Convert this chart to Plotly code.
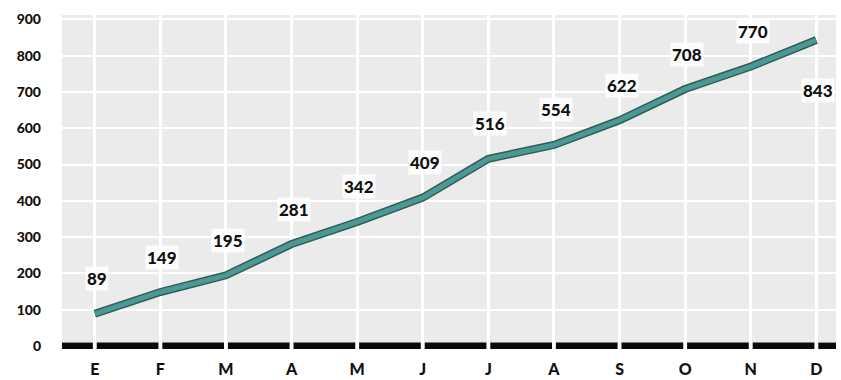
import plotly.graph_objects as go

# Monthly cumulative totals (Spanish month initials)
months = ["E", "F", "M", "A", "M", "J", "J", "A", "S", "O", "N", "D"]
values = [89, 149, 195, 281, 342, 409, 516, 554, 622, 708, 770, 843]
y_ticks = [0, 100, 200, 300, 400, 500, 600, 700, 800, 900]

xs = list(range(len(months)))
font_family = "Lato, 'Open Sans', sans-serif"

fig = go.Figure()

# Heavy black base rule, broken at every month position
gap = 0.03
base_x, base_y = [-0.5, -gap, None], [0, 0, None]
for i in xs:
    base_x += [i + gap, min(i + 1 - gap, 11.3), None]
    base_y += [0, 0, None]
fig.add_trace(go.Scatter(x=base_x, y=base_y, mode="lines",
                         line=dict(color="#0a0a0a", width=7),
                         hoverinfo="skip", showlegend=False, cliponaxis=False))

# Line: dark edge under a teal core
fig.add_trace(go.Scatter(x=xs, y=values, mode="lines",
                         line=dict(color="#2c5e5c", width=8),
                         hoverinfo="skip", showlegend=False))
fig.add_trace(go.Scatter(x=xs, y=values, mode="lines",
                         line=dict(color="#4d9893", width=5),
                         showlegend=False))

# Value labels sitting above each point (the last one below)
for i, v in enumerate(values):
    shift = -50 if i == len(values) - 1 else 35
    fig.add_annotation(x=i, y=v, text=str(v), showarrow=False, yshift=shift,
                       xshift=2,
                       bgcolor="rgba(255,255,255,0.85)", borderpad=1,
                       font=dict(family=font_family, size=17, color="#111",
                                 weight=900))

fig.update_xaxes(range=[-0.5, 11.3], tickvals=xs, ticktext=months,
                 showgrid=True, gridcolor="white", gridwidth=3,
                 zeroline=False, showline=False, ticks="",
                 ticklabelstandoff=9, automargin=False,
                 tickfont=dict(family=font_family, size=16, color="#111",
                               weight=900))
fig.update_yaxes(range=[-8, 912], tickvals=y_ticks,
                 showgrid=True, gridcolor="white", gridwidth=2,
                 zeroline=False, showline=False, ticks="",
                 ticklabelstandoff=20, automargin=False,
                 tickfont=dict(family=font_family, size=14, color="#111",
                               weight=900))

fig.update_layout(width=841, height=380,
                  margin=dict(l=62, r=5, t=15, b=31),
                  paper_bgcolor="white", plot_bgcolor="#ebebeb")

fig.write_html("out.html")
